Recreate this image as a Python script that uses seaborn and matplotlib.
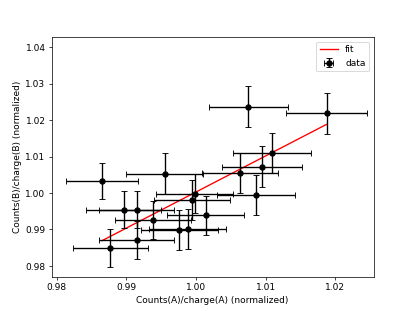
import matplotlib
matplotlib.use("Agg")
import matplotlib.pyplot as plt
import numpy as np
import seaborn as sns

plt.style.use('default')

# normalized counts/charge for the two detectors
x_vals = [1.0075, 1.0188, 0.9865, 0.9955, 1.0063, 1.0095, 1.0109, 0.9998, 0.9994,
          1.0086, 0.9896, 0.9915, 0.9938, 0.9915, 0.9877, 1.0014, 0.9976, 0.9988]
y_vals = [1.0237, 1.0219, 1.0033, 1.0053, 1.0054, 1.0072, 1.0110, 0.9998, 0.9982,
          0.9994, 0.9954, 0.9954, 0.9926, 0.9871, 0.9849, 0.9939, 0.9898, 0.9901]
x_err = [0.0057, 0.0058, 0.0051, 0.0055, 0.0055, 0.0057, 0.0056, 0.0055, 0.0055,
         0.0056, 0.0054, 0.0054, 0.0055, 0.0054, 0.0054, 0.0055, 0.0055, 0.0055]
y_err = [0.0057, 0.0056, 0.0050, 0.0056, 0.0055, 0.0056, 0.0054, 0.0054, 0.0055,
         0.0055, 0.0051, 0.0051, 0.0053, 0.0052, 0.0053, 0.0054, 0.0054, 0.0054]

# linear fit result
fit_slope = 0.990
fit_at_one = 1.00027

fig, axs = plt.subplots(1, 1, figsize=(6.4, 4.8), dpi=415 / 6.4)

xx = np.array([min(x_vals), max(x_vals)])
yy = fit_at_one + fit_slope * (xx - 1.0)
sns.lineplot(x=xx, y=yy, color='r', label="fit", ax=axs)

axs.errorbar(x_vals, y_vals, xerr=x_err, yerr=y_err, fmt='o', color='k',
             capsize=3, label="data")

axs.set_xlim(0.9793, 1.0255)
axs.set_ylim(0.9770, 1.0428)
axs.set_xlabel("Counts(A)/charge(A) (normalized)")
axs.set_ylabel("Counts(B)/charge(B) (normalized)")
axs.legend(loc="upper right")

plt.savefig("out.png", dpi=415 / 6.4)
